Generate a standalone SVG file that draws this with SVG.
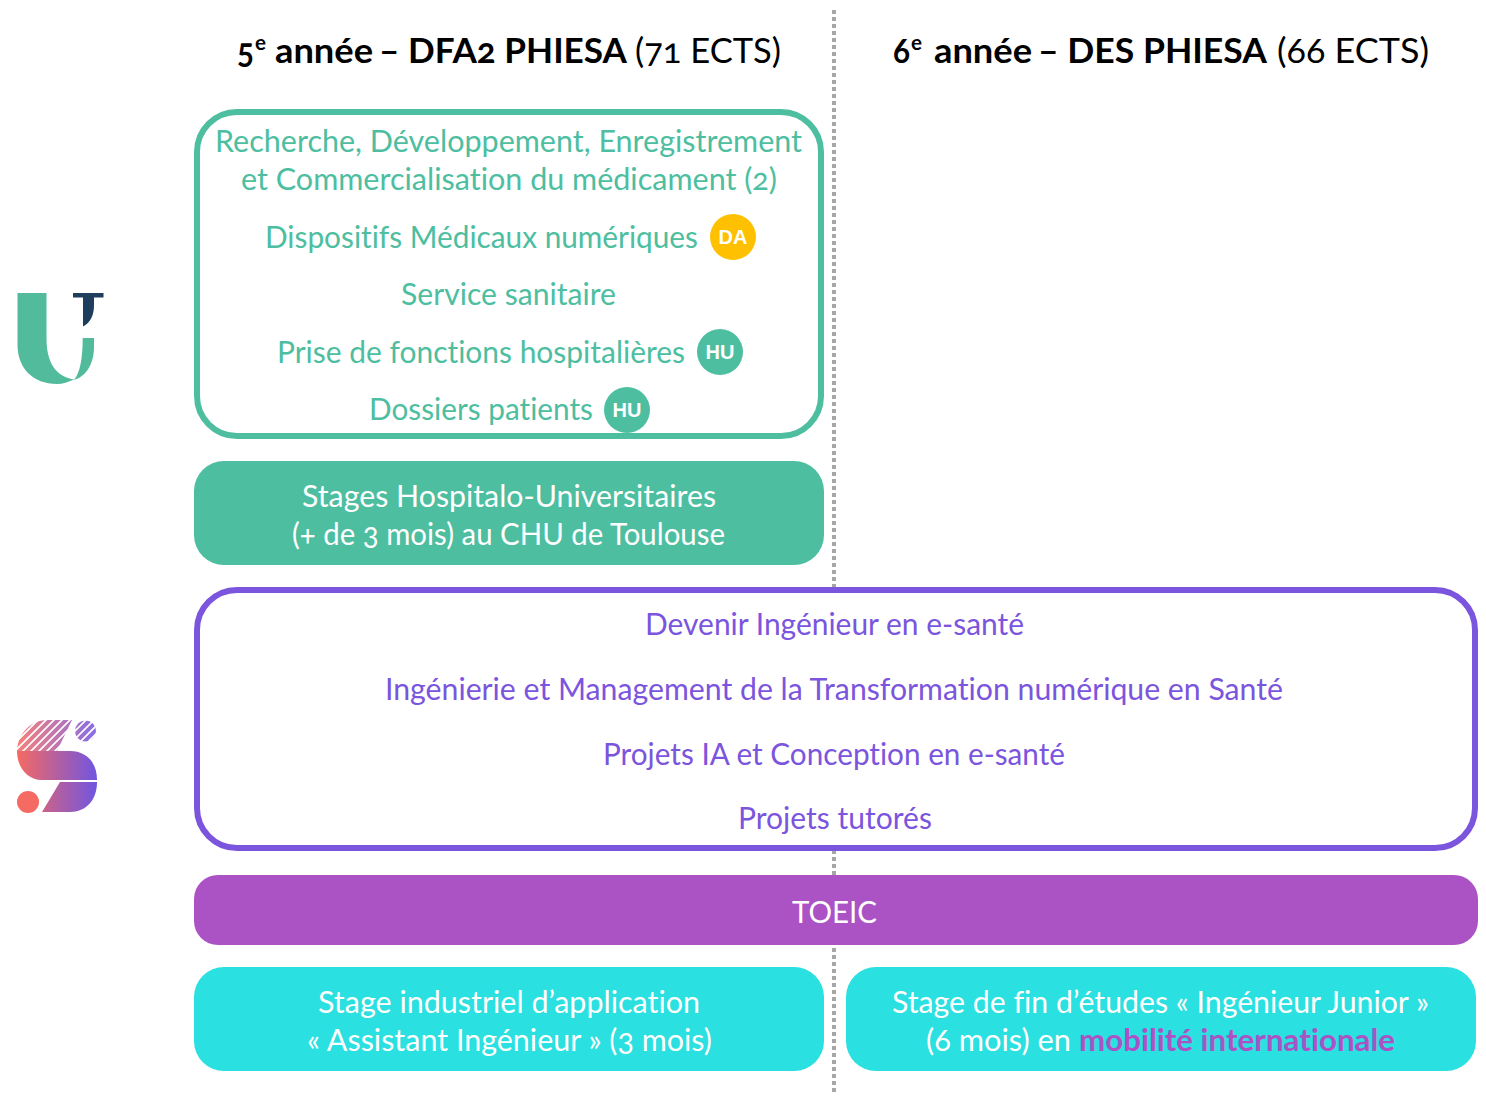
<svg xmlns="http://www.w3.org/2000/svg" width="1486" height="1096" viewBox="0 0 1486 1096">
<style>
text{font-family:"Lato","Open Sans","Liberation Sans",sans-serif;font-size:30px;font-feature-settings:"onum" 1,"liga" 0;font-variant-numeric:oldstyle-nums;font-variant-ligatures:none}
.title{font-size:35px;fill:#000}
.b{font-weight:700}
.g{fill:#4dbe9f}.p{fill:#7b55dd}.w{fill:#fff}
.sup{font-size:21px;font-weight:700}
.badge{font-family:"Liberation Sans",Arial,sans-serif;font-size:20px;font-weight:700;fill:#fff;text-anchor:middle}
</style>
<defs>
<linearGradient id="sg" gradientUnits="userSpaceOnUse" x1="17" y1="0" x2="97" y2="0"><stop offset="0" stop-color="#f56a62"/><stop offset="1" stop-color="#7155e0"/></linearGradient>
<clipPath id="topclip"><path d="M17 751C18 733 31 720 48 720H72L57 751Z"/><circle cx="85.500" cy="731" r="10.500"/></clipPath>
</defs>
<g id="connectors"><line x1="834" y1="10" x2="834" y2="1094" stroke="#a6a6a6" stroke-width="4" stroke-dasharray="4 3"/></g>
<g id="header-5">
<text class="title b" x="237" y="63" textLength="17" lengthAdjust="spacingAndGlyphs">5</text>
<text class="title sup" x="255" y="50" textLength="11" lengthAdjust="spacingAndGlyphs">e</text>
<text class="title b" x="275" y="63" textLength="98" lengthAdjust="spacingAndGlyphs">année</text>
<text class="title b" x="379" y="63" textLength="248" lengthAdjust="spacingAndGlyphs">– DFA2 PHIESA</text>
<text class="title" x="635" y="63" textLength="146" lengthAdjust="spacingAndGlyphs">(71 ECTS)</text>
</g>
<g id="header-6">
<text class="title b" x="893" y="63" textLength="17" lengthAdjust="spacingAndGlyphs">6</text>
<text class="title sup" x="911" y="50" textLength="11" lengthAdjust="spacingAndGlyphs">e</text>
<text class="title b" x="934" y="63" textLength="98" lengthAdjust="spacingAndGlyphs">année</text>
<text class="title b" x="1038" y="63" textLength="229" lengthAdjust="spacingAndGlyphs">– DES PHIESA</text>
<text class="title" x="1277" y="63" textLength="152" lengthAdjust="spacingAndGlyphs">(66 ECTS)</text>
</g>
<g id="logo-ut">
<path d="M17.500 293H46.500V338C46.500 362 55 376 74 379.500C68 382 63 384 57 384C33 384 17.500 368 17.500 345Z" fill="#52bb9c"/>
<path d="M82.700 338H94V347C94 365 85 377 74 380C80 373 82.700 358 82.700 338Z" fill="#52bb9c"/>
<path d="M73 293H103.500V297.500H94V305C94 316 90 323 83 326.500V297.500H73Z" fill="#1f3d5c"/>
</g>
<g id="logo-s">
<g clip-path="url(#topclip)" stroke="url(#sg)" stroke-width="4" opacity="0.85"><path d="M0 754L40 714M8 754L48 714M16 754L56 714M24 754L64 714M32 754L72 714M40 754L80 714M48 754L88 714M56 754L96 714M64 754L104 714M72 754L112 714M80 754L120 714M88 754L128 714"/></g>
<path d="M17 751H70C86 751 97 762 97 780H42C27 780 17 767 17 751Z" fill="url(#sg)"/>
<path d="M60 782H97C97 800 86 812 70 812H42Z" fill="url(#sg)"/>
<circle cx="28" cy="802" r="11" fill="#f56a62"/>
</g>
<g id="node-ue-medical">
<rect x="197" y="112" width="624" height="324" rx="40" fill="#fff" stroke="#4dbe9f" stroke-width="6"/>
<text class="g" x="215" y="152" textLength="587" lengthAdjust="spacingAndGlyphs">Recherche, Développement, Enregistrement</text>
<text class="g" x="241" y="190" textLength="536" lengthAdjust="spacingAndGlyphs">et Commercialisation du médicament (2)</text>
<text class="g" x="265" y="248" textLength="433" lengthAdjust="spacingAndGlyphs">Dispositifs Médicaux numériques</text>
<text class="g" x="401" y="305" textLength="215" lengthAdjust="spacingAndGlyphs">Service sanitaire</text>
<text class="g" x="277" y="363" textLength="408" lengthAdjust="spacingAndGlyphs">Prise de fonctions hospitalières</text>
<text class="g" x="369" y="420" textLength="224" lengthAdjust="spacingAndGlyphs">Dossiers patients</text>
</g>
<g id="badge-da"><circle cx="733" cy="237" r="23" fill="#ffc000"/><text class="badge" x="733" y="244">DA</text></g>
<g id="badge-hu-1"><circle cx="720" cy="352" r="23" fill="#4dbe9f"/><text class="badge" x="720" y="359">HU</text></g>
<g id="badge-hu-2"><circle cx="627" cy="410" r="23" fill="#4dbe9f"/><text class="badge" x="627" y="417">HU</text></g>
<g id="node-stages-hu">
<rect x="194" y="461" width="630" height="104" rx="30" fill="#4dbe9f"/>
<text class="w" x="302" y="507" textLength="414" lengthAdjust="spacingAndGlyphs">Stages Hospitalo-Universitaires</text>
<text class="w" x="292" y="545" textLength="433" lengthAdjust="spacingAndGlyphs">(+ de 3 mois) au CHU de Toulouse</text>
</g>
<g id="node-ue-ingenieur">
<rect x="197" y="590" width="1278" height="258" rx="40" fill="#fff" stroke="#7b55dd" stroke-width="6"/>
<text class="p" x="645" y="635" textLength="379" lengthAdjust="spacingAndGlyphs">Devenir Ingénieur en e-santé</text>
<text class="p" x="385" y="700" textLength="898" lengthAdjust="spacingAndGlyphs">Ingénierie et Management de la Transformation numérique en Santé</text>
<text class="p" x="603" y="765" textLength="462" lengthAdjust="spacingAndGlyphs">Projets IA et Conception en e-santé</text>
<text class="p" x="738" y="829" textLength="194" lengthAdjust="spacingAndGlyphs">Projets tutorés</text>
</g>
<g id="node-toeic">
<rect x="194" y="875" width="1284" height="70" rx="24" fill="#ab53c5"/>
<text class="w" x="792" y="923" textLength="85" lengthAdjust="spacingAndGlyphs">TOEIC</text>
</g>
<g id="node-stage-assistant">
<rect x="194" y="967" width="630" height="104" rx="30" fill="#2ae0e0"/>
<text class="w" x="318" y="1013" textLength="382" lengthAdjust="spacingAndGlyphs">Stage industriel d’application</text>
<text class="w" x="307" y="1051" textLength="405" lengthAdjust="spacingAndGlyphs">« Assistant Ingénieur » (3 mois)</text>
</g>
<g id="node-stage-fin">
<rect x="846" y="967" width="630" height="104" rx="30" fill="#2ae0e0"/>
<text class="w" x="892" y="1013" textLength="537" lengthAdjust="spacingAndGlyphs">Stage de fin d’études « Ingénieur Junior »</text>
<text class="w" x="926" y="1051" textLength="145" lengthAdjust="spacingAndGlyphs">(6 mois) en</text>
<text class="b" x="1079" y="1051" textLength="316" lengthAdjust="spacingAndGlyphs" fill="#ab53c5">mobilité internationale</text>
</g>
</svg>
